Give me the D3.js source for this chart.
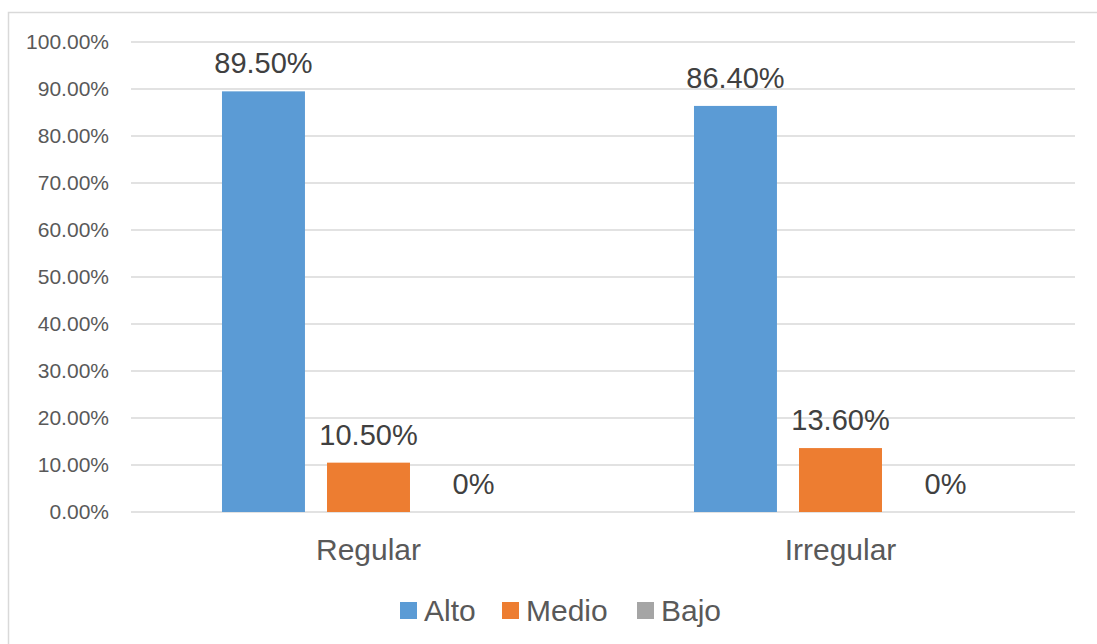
<!DOCTYPE html>
<html>
<head>
<meta charset="utf-8">
<script src="https://cdn.jsdelivr.net/npm/d3@7"></script>
<style>
  body { margin: 0; background: #fff; }
  text { font-family: "Liberation Sans", Arial, sans-serif; }
</style>
</head>
<body>
<svg id="chart" width="1097" height="644"></svg>
<script>
const categories = ["Regular", "Irregular"];
const seriesNames = ["Alto", "Medio", "Bajo"];
const alto = [0.895, 0.864];
const medio = [0.105, 0.136];
const bajo = [0, 0];
const labelsAlto = ["89.50%", "86.40%"];
const labelsMedio = ["10.50%", "13.60%"];
const labelsBajo = ["0%", "0%"];
const yTicks = [0, 0.1, 0.2, 0.3, 0.4, 0.5, 0.6, 0.7, 0.8, 0.9, 1.0];

const colors = { Alto: "#5b9bd5", Medio: "#ed7d31", Bajo: "#a5a5a5" };

const svg = d3.select("#chart");

const margin = { left: 131, right: 1075, top: 42, bottom: 512 };

// outer chart border
svg.append("rect")
  .attr("x", 8.5)
  .attr("y", 12.5)
  .attr("width", 1120)
  .attr("height", 660)
  .attr("fill", "none")
  .attr("stroke", "#d9d9d9")
  .attr("stroke-width", 1.5);

const data = categories.map((c, i) => ({
  category: c,
  values: [
    { key: "Alto", value: alto[i], label: labelsAlto[i] },
    { key: "Medio", value: medio[i], label: labelsMedio[i] },
    { key: "Bajo", value: bajo[i], label: labelsBajo[i] }
  ]
}));

const x0 = d3.scaleBand()
  .domain(categories)
  .range([margin.left + 1.5, margin.right + 1.5])
  .padding(0);

const x1 = d3.scaleBand()
  .domain(seriesNames)
  .range([0, x0.bandwidth()])
  .paddingInner(0.21)
  .paddingOuter(0.852);

const y = d3.scaleLinear()
  .domain([0, 1])
  .range([margin.bottom, margin.top]);

// gridlines
svg.append("g")
  .selectAll("line")
  .data(yTicks)
  .join("line")
  .attr("x1", margin.left)
  .attr("x2", margin.right)
  .attr("y1", d => y(d))
  .attr("y2", d => y(d))
  .attr("stroke", "#d9d9d9")
  .attr("stroke-width", 1.5);

// y axis labels
const yAxis = d3.axisLeft(y)
  .tickValues(yTicks)
  .tickFormat(d => (d * 100).toFixed(2) + "%")
  .tickSize(0)
  .tickPadding(22);

const yg = svg.append("g")
  .attr("transform", `translate(${margin.left}, 0)`)
  .call(yAxis);
yg.select(".domain").remove();
yg.selectAll("text")
  .attr("fill", "#595959")
  .style("font-size", "21px")
  .style("font-family", "'Liberation Sans', Arial, sans-serif");

// bars
const groups = svg.append("g")
  .selectAll("g")
  .data(data)
  .join("g")
  .attr("transform", d => `translate(${x0(d.category)}, 0)`);

groups.selectAll("rect")
  .data(d => d.values)
  .join("rect")
  .attr("x", d => x1(d.key))
  .attr("y", d => y(d.value))
  .attr("width", x1.bandwidth())
  .attr("height", d => y(0) - y(d.value))
  .attr("fill", d => colors[d.key]);

groups.selectAll("text.value")
  .data(d => d.values)
  .join("text")
  .attr("class", "value")
  .attr("x", d => x1(d.key) + x1.bandwidth() / 2)
  .attr("y", d => y(d.value) - 18)
  .attr("text-anchor", "middle")
  .attr("fill", "#404040")
  .style("font-size", "29px")
  .text(d => d.label);

// category labels
svg.append("g")
  .selectAll("text")
  .data(categories)
  .join("text")
  .attr("x", d => x0(d) + x0.bandwidth() / 2)
  .attr("y", 560)
  .attr("text-anchor", "middle")
  .attr("fill", "#595959")
  .style("font-size", "30px")
  .text(d => d);

// legend
const legendX = [400, 502, 637];
const legend = svg.append("g");
seriesNames.forEach((name, i) => {
  const row = legend.append("g")
    .attr("transform", `translate(${legendX[i]}, 602)`);
  row.append("rect")
    .attr("width", 17)
    .attr("height", 17)
    .attr("fill", colors[name]);
  row.append("text")
    .attr("x", 24)
    .attr("y", 19)
    .attr("fill", "#595959")
    .style("font-size", "30px")
    .text(name);
});
</script>
</body>
</html>
